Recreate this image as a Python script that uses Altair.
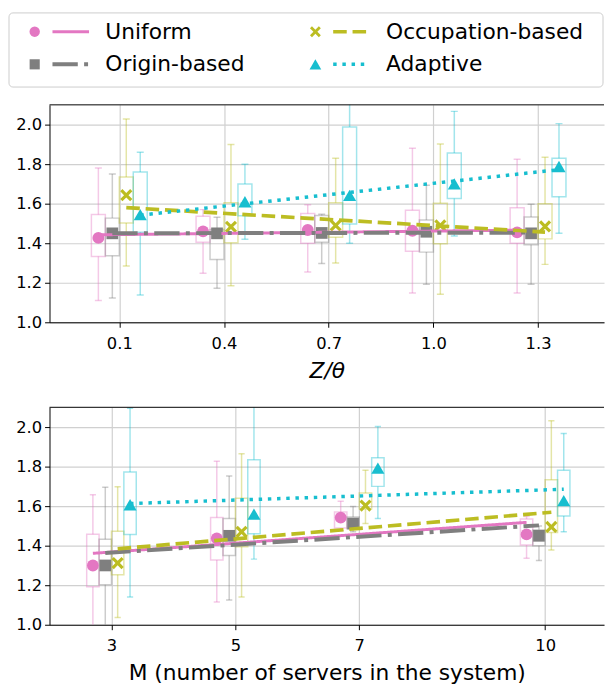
import math
import altair as alt
import pandas as pd

GROUPS = ["Uniform", "Origin-based", "Occupation-based", "Adaptive"]
COLORS = ["#e377c2", "#7f7f7f", "#bcbd22", "#17becf"]

Z_VALUES = [0.1, 0.4, 0.7, 1.0, 1.3]
M_VALUES = [3, 5, 7, 10]
Y_TICKS = [1.0, 1.2, 1.4, 1.6, 1.8, 2.0]

# legend layout: column / row of each entry (two columns)
LEGEND_COL = [0, 0, 1, 1]
LEGEND_ROW = [0, 1, 0, 1]

# ---- top panel (Z/theta): whisker low, Q1, Q3, whisker high, mean ----
TOP_LO = {
    "Uniform": [1.11, 1.248, 1.255, 1.148, 1.148],
    "Origin-based": [1.123, 1.172, 1.297, 1.193, 1.193],
    "Occupation-based": [1.285, 1.185, 1.30, 1.142, 1.293],
    "Adaptive": [1.138, 1.42, 1.40, 1.436, 1.45],
}
TOP_Q1 = {
    "Uniform": [1.333, 1.405, 1.40, 1.36, 1.40],
    "Origin-based": [1.337, 1.318, 1.405, 1.355, 1.392],
    "Occupation-based": [1.502, 1.402, 1.43, 1.397, 1.422],
    "Adaptive": [1.455, 1.539, 1.497, 1.626, 1.635],
}
TOP_Q3 = {
    "Uniform": [1.545, 1.537, 1.55, 1.567, 1.58],
    "Origin-based": [1.527, 1.47, 1.54, 1.518, 1.533],
    "Occupation-based": [1.735, 1.605, 1.605, 1.602, 1.60],
    "Adaptive": [1.76, 1.70, 1.988, 1.857, 1.83],
}
TOP_HI = {
    "Uniform": [1.78, 1.57, 1.595, 1.88, 1.825],
    "Origin-based": [1.75, 1.532, 1.547, 1.693, 1.597],
    "Occupation-based": [2.028, 1.90, 1.83, 1.902, 1.835],
    "Adaptive": [1.86, 1.80, 2.15, 2.067, 2.005],
}
TOP_MEAN = {
    "Uniform": [1.427, 1.46, 1.467, 1.463, 1.455],
    "Origin-based": [1.45, 1.45, 1.452, 1.458, 1.45],
    "Occupation-based": [1.643, 1.483, 1.49, 1.49, 1.485],
    "Adaptive": [1.545, 1.61, 1.642, 1.70, 1.788],
}

# ---- bottom panel (M): whisker low, Q1, Q3, whisker high, mean ----
BOT_LO = {
    "Uniform": [0.95, 1.115, 1.475, 1.337],
    "Origin-based": [0.95, 1.125, 1.47, 1.325],
    "Occupation-based": [1.037, 1.14, 1.512, 1.378],
    "Adaptive": [1.14, 1.332, 1.537, 1.47],
}
BOT_Q1 = {
    "Uniform": [1.192, 1.327, 1.49, 1.403],
    "Origin-based": [1.203, 1.35, 1.485, 1.40],
    "Occupation-based": [1.253, 1.395, 1.587, 1.467],
    "Adaptive": [1.457, 1.46, 1.70, 1.55],
}
BOT_Q3 = {
    "Uniform": [1.458, 1.542, 1.57, 1.535],
    "Origin-based": [1.433, 1.537, 1.545, 1.48],
    "Occupation-based": [1.473, 1.64, 1.667, 1.733],
    "Adaptive": [1.773, 1.835, 1.845, 1.782],
}
BOT_HI = {
    "Uniform": [1.658, 1.827, 1.625, 1.548],
    "Origin-based": [1.695, 1.753, 1.598, 1.50],
    "Occupation-based": [1.698, 1.865, 1.782, 2.032],
    "Adaptive": [2.095, 2.15, 2.003, 1.967],
}
BOT_MEAN = {
    "Uniform": [1.30, 1.437, 1.542, 1.457],
    "Origin-based": [1.30, 1.45, 1.512, 1.45],
    "Occupation-based": [1.312, 1.47, 1.603, 1.495],
    "Adaptive": [1.607, 1.56, 1.792, 1.628],
}

# ---------------- styles ----------------
FONT = "DejaVu Sans"
W = 561
H_TOP = 220
H_BOT = 220
BOX_W_TOP = 0.04
BOX_W_BOT = 0.2
LINE_STYLE = {
    "Uniform": dict(strokeWidth=3, strokeDash=[1, 0]),
    "Origin-based": dict(strokeWidth=4, strokeDash=[25.6, 6.4, 4, 6.4]),
    "Occupation-based": dict(strokeWidth=3.7, strokeDash=[13.7, 5.9]),
    "Adaptive": dict(strokeWidth=3.5, strokeDash=[3.5, 5.8]),
}


def x_poly(h, L):
    plus = [(h, L), (h, h), (L, h), (L, -h), (h, -h), (h, -L), (-h, -L),
            (-h, -h), (-L, -h), (-L, h), (-h, h), (-h, L)]
    s = 1 / math.sqrt(2)
    pts = [((x - y) * s, (x + y) * s) for x, y in plus]
    return "M" + "L".join(f"{x:.3f},{y:.3f}" for x, y in pts) + "Z"


X_PATH = x_poly(0.26, 1.16)
MARKER_SHAPE = {
    "Uniform": ("circle", 144, 110),
    "Origin-based": ("square", 140, 105),
    "Occupation-based": (X_PATH, 150, 120),
    "Adaptive": ("triangle-up", 175, 140),
}

# legend geometry (pixels relative to top plot origin)
LEG_BOX = dict(bx0=-41, bx1=560, by0=-93, by1=-18)
LEG_MX0, LEG_COL_STEP = -15, 284
LEG_MY0, LEG_ROW_STEP = -74, 33
LEG_LINE_START, LEG_LINE_END, LEG_TEXT = 18, 55, 71.5


def build(xs, lo, q1, q3, hi, mean, bw):
    rows = []
    for gi, g in enumerate(GROUPS):
        off = (gi - 1.5) * bw
        for i, xv in enumerate(xs):
            xc = xv + off
            rows.append(dict(group=g, xc=xc, x0=xc - bw / 2, x1=xc + bw / 2,
                             c0=xc - bw / 4, c1=xc + bw / 4,
                             lo=lo[g][i], q1=q1[g][i], q3=q3[g][i], hi=hi[g][i], mean=mean[g][i]))
    return pd.DataFrame(rows)


stroke_enc = alt.Stroke("group:N", scale=alt.Scale(domain=GROUPS, range=COLORS), legend=None)


def panel(df, xs, domain, fmt, title, italic, height, label_pad, title_pad):
    xscale = alt.Scale(domain=domain, nice=False, zero=False)
    yscale = alt.Scale(domain=[1.0, 2.1], nice=False, zero=False)
    xaxis = alt.Axis(values=xs, format=fmt, title=title, grid=True,
                     titleFontStyle="italic" if italic else "normal",
                     labelPadding=label_pad, titlePadding=title_pad)
    yaxis = alt.Axis(values=Y_TICKS, format=".1f", title=None, grid=True, labelPadding=3)

    def X(f):
        return alt.X(f, type="quantitative", scale=xscale, axis=xaxis)

    def Y(f):
        return alt.Y(f, type="quantitative", scale=yscale, axis=yaxis)

    base = alt.Chart(df)
    layers = []
    layers.append(base.mark_rect(fillOpacity=0, strokeOpacity=0.4, strokeWidth=1.5, clip=True).encode(
        x=X("x0"), x2="x1", y=Y("q1"), y2="q3", stroke=stroke_enc))
    for lo_f, hi_f in (("lo", "q1"), ("q3", "hi")):
        layers.append(base.mark_rule(strokeOpacity=0.4, strokeWidth=1.5, clip=True).encode(
            x=X("xc"), y=Y(lo_f), y2=hi_f, stroke=stroke_enc))
    for f in ("lo", "hi"):
        layers.append(base.mark_rule(strokeOpacity=0.4, strokeWidth=1.5, clip=True).encode(
            x=X("c0"), x2="c1", y=Y(f), stroke=stroke_enc))
    for gi, g in enumerate(GROUPS):
        shp, sz, _ = MARKER_SHAPE[g]
        layers.append(base.transform_filter(alt.datum.group == g).mark_point(
            shape=shp, size=sz, filled=True, opacity=1, color=COLORS[gi], strokeWidth=0).encode(
            x=X("xc"), y=Y("mean")))
    for gi, g in enumerate(GROUPS):
        st = LINE_STYLE[g]
        layers.append(base.transform_filter(alt.datum.group == g).transform_regression(
            "xc", "mean").mark_line(color=COLORS[gi], strokeWidth=st["strokeWidth"],
                                    strokeDash=st["strokeDash"], clip=True).encode(
            x=X("xc"), y=Y("mean")))
    layers.append(alt.Chart(pd.DataFrame({"a": [0]})).mark_rule(color="black", strokeWidth=1).encode(
        x=alt.value(0), x2=alt.value(W), y=alt.value(0)))
    return alt.layer(*layers)


def legend_layer(height):
    lx = alt.Scale(domain=[0, W], nice=False, zero=False)
    ly = alt.Scale(domain=[0, height], nice=False, zero=False, reverse=True)

    def LX(f):
        return alt.X(f, type="quantitative", scale=lx, axis=None)

    def LY(f):
        return alt.Y(f, type="quantitative", scale=ly, axis=None)

    rows = []
    for gi, g in enumerate(GROUPS):
        mx = LEG_MX0 + LEGEND_COL[gi] * LEG_COL_STEP
        my = LEG_MY0 + LEGEND_ROW[gi] * LEG_ROW_STEP
        rows.append(dict(group=g, mx=mx, my=my, l0=mx + LEG_LINE_START,
                         l1=mx + LEG_LINE_END, tx=mx + LEG_TEXT))
    ldf = pd.DataFrame(rows)
    layers = [alt.Chart(pd.DataFrame([LEG_BOX])).mark_rect(
        fill="white", stroke="#cccccc", strokeWidth=1, cornerRadius=4, strokeJoin="round").encode(
        x=LX("bx0"), x2="bx1", y=LY("by0"), y2="by1")]
    lbase = alt.Chart(ldf)
    for gi, g in enumerate(GROUPS):
        st = LINE_STYLE[g]
        shp, _, lsz = MARKER_SHAPE[g]
        sub = lbase.transform_filter(alt.datum.group == g)
        layers.append(sub.mark_rule(color=COLORS[gi], strokeWidth=st["strokeWidth"],
                                    strokeDash=st["strokeDash"], strokeCap="butt").encode(
            x=LX("l0"), x2="l1", y=LY("my")))
        layers.append(sub.mark_point(shape=shp, size=lsz, filled=True, opacity=1,
                                     color=COLORS[gi], strokeWidth=0).encode(
            x=LX("mx"), y=LY("my")))
    layers.append(lbase.mark_text(align="left", baseline="middle", fontSize=22, font=FONT,
                                  color="black").encode(x=LX("tx"), y=LY("my"), text="group:N"))
    return alt.layer(*layers)


top_df = build(Z_VALUES, TOP_LO, TOP_Q1, TOP_Q3, TOP_HI, TOP_MEAN, BOX_W_TOP)
bot_df = build(M_VALUES, BOT_LO, BOT_Q1, BOT_Q3, BOT_HI, BOT_MEAN, BOX_W_BOT)

top = alt.layer(
    panel(top_df, Z_VALUES, [-0.1, 1.489], ".1f", "Z/θ", True, H_TOP, 9, 8),
    legend_layer(H_TOP),
).resolve_scale(x="independent", y="independent").properties(width=W, height=H_TOP)

bottom = panel(bot_df, M_VALUES, [2.0, 10.95], "d", "M (number of servers in the system)",
               False, H_BOT, 8, 9).properties(width=W, height=H_BOT)

chart = alt.vconcat(top, bottom, spacing=86, bounds="flush").properties(
    padding={"left": 0, "top": 0, "right": 0, "bottom": 0}
).configure_view(stroke=None).configure_axis(
    labelFont=FONT, titleFont=FONT, labelFontSize=16.5, titleFontSize=22,
    titleFontWeight="normal", labelColor="black", titleColor="black",
    domainColor="black", domainWidth=1, tickColor="black", tickSize=5, tickWidth=1,
    gridColor="#d0d0d0", gridWidth=1.2,
)

chart.save("out.html", embed_options={"renderer": "svg", "actions": False})
